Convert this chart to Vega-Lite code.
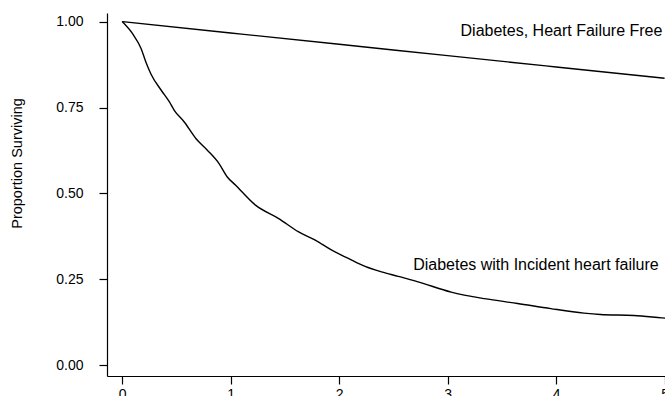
{
  "$schema": "https://vega.github.io/schema/vega-lite/v6.json",
  "autosize": {"type": "none"},
  "padding": {"left": 107, "top": 13, "right": 0, "bottom": 20},
  "width": 563,
  "height": 363,
  "background": "white",
  "config": {"view": {"stroke": null}, "font": "Liberation Sans"},
  "datasets": {
    "curves": [
      {"group": "Diabetes, Heart Failure Free", "years": 0, "surv": 1.0},
      {"group": "Diabetes, Heart Failure Free", "years": 1, "surv": 0.967},
      {"group": "Diabetes, Heart Failure Free", "years": 2, "surv": 0.934},
      {"group": "Diabetes, Heart Failure Free", "years": 3, "surv": 0.901},
      {"group": "Diabetes, Heart Failure Free", "years": 4, "surv": 0.868},
      {"group": "Diabetes, Heart Failure Free", "years": 5, "surv": 0.835},
      {"group": "Diabetes with Incident heart failure", "years": 0, "surv": 1.0},
      {"group": "Diabetes with Incident heart failure", "years": 0.097, "surv": 0.964},
      {"group": "Diabetes with Incident heart failure", "years": 0.174, "surv": 0.922},
      {"group": "Diabetes with Incident heart failure", "years": 0.22, "surv": 0.881},
      {"group": "Diabetes with Incident heart failure", "years": 0.266, "surv": 0.847},
      {"group": "Diabetes with Incident heart failure", "years": 0.358, "surv": 0.801},
      {"group": "Diabetes with Incident heart failure", "years": 0.434, "surv": 0.767},
      {"group": "Diabetes with Incident heart failure", "years": 0.48, "surv": 0.742},
      {"group": "Diabetes with Incident heart failure", "years": 0.572, "surv": 0.708},
      {"group": "Diabetes with Incident heart failure", "years": 0.679, "surv": 0.66},
      {"group": "Diabetes with Incident heart failure", "years": 0.785, "surv": 0.626},
      {"group": "Diabetes with Incident heart failure", "years": 0.893, "surv": 0.587},
      {"group": "Diabetes with Incident heart failure", "years": 0.969, "surv": 0.548},
      {"group": "Diabetes with Incident heart failure", "years": 1.046, "surv": 0.524},
      {"group": "Diabetes with Incident heart failure", "years": 1.229, "surv": 0.466},
      {"group": "Diabetes with Incident heart failure", "years": 1.443, "surv": 0.427},
      {"group": "Diabetes with Incident heart failure", "years": 1.627, "surv": 0.388},
      {"group": "Diabetes with Incident heart failure", "years": 1.78, "surv": 0.364},
      {"group": "Diabetes with Incident heart failure", "years": 1.932, "surv": 0.335},
      {"group": "Diabetes with Incident heart failure", "years": 2.085, "surv": 0.311},
      {"group": "Diabetes with Incident heart failure", "years": 2.239, "surv": 0.288},
      {"group": "Diabetes with Incident heart failure", "years": 2.391, "surv": 0.272},
      {"group": "Diabetes with Incident heart failure", "years": 2.544, "surv": 0.259},
      {"group": "Diabetes with Incident heart failure", "years": 2.727, "surv": 0.243},
      {"group": "Diabetes with Incident heart failure", "years": 3.033, "surv": 0.213},
      {"group": "Diabetes with Incident heart failure", "years": 3.339, "surv": 0.194},
      {"group": "Diabetes with Incident heart failure", "years": 3.645, "surv": 0.18},
      {"group": "Diabetes with Incident heart failure", "years": 3.951, "surv": 0.165},
      {"group": "Diabetes with Incident heart failure", "years": 4.257, "surv": 0.152},
      {"group": "Diabetes with Incident heart failure", "years": 4.409, "surv": 0.148},
      {"group": "Diabetes with Incident heart failure", "years": 4.716, "surv": 0.145},
      {"group": "Diabetes with Incident heart failure", "years": 4.975, "surv": 0.138},
      {"group": "Diabetes with Incident heart failure", "years": 5.05, "surv": 0.136}
    ],
    "labels": [
      {"label": "Diabetes, Heart Failure Free", "years": 4.98, "surv": 0.9587},
      {"label": "Diabetes with Incident heart failure", "years": 4.945, "surv": 0.2766}
    ]
  },
  "layer": [
    {
      "data": {"name": "curves"},
      "mark": {"type": "line", "color": "black", "strokeWidth": 1.4, "interpolate": "monotone", "clip": true},
      "encoding": {
        "x": {
          "field": "years", "type": "quantitative",
          "scale": {"domain": [-0.14, 5.05], "nice": false, "zero": false},
          "axis": {
            "values": [0, 1, 2, 3, 4, 5], "format": "d", "title": null, "grid": false,
            "domainColor": "black", "domainWidth": 1.2,
            "tickColor": "black", "tickSize": 8, "tickWidth": 1.2,
            "labelFontSize": 14, "labelColor": "black", "labelPadding": 3,
            "labelFlush": false, "labelOverlap": false, "labelBound": false
          }
        },
        "y": {
          "field": "surv", "type": "quantitative",
          "scale": {"domain": [-0.031, 1.025], "nice": false, "zero": false},
          "axis": {
            "values": [0, 0.25, 0.5, 0.75, 1.0], "format": ".2f", "grid": false,
            "title": "Proportion Surviving",
            "titleFontSize": 14.5, "titleFontWeight": "normal", "titleColor": "black",
            "titleAngle": 270, "titleAlign": "center", "titleBaseline": "middle",
            "titleX": -89.5, "titleY": 150,
            "domainColor": "black", "domainWidth": 1.2,
            "tickColor": "black", "tickSize": 8, "tickWidth": 1.2,
            "labelFontSize": 14, "labelColor": "black", "labelPadding": 16,
            "labelFlush": false, "labelOverlap": false
          }
        },
        "detail": {"field": "group"}
      }
    },
    {
      "data": {"name": "labels"},
      "mark": {"type": "text", "align": "right", "baseline": "alphabetic", "fontSize": 16, "color": "black"},
      "encoding": {
        "x": {"field": "years", "type": "quantitative"},
        "y": {"field": "surv", "type": "quantitative"},
        "text": {"field": "label"}
      }
    }
  ]
}
